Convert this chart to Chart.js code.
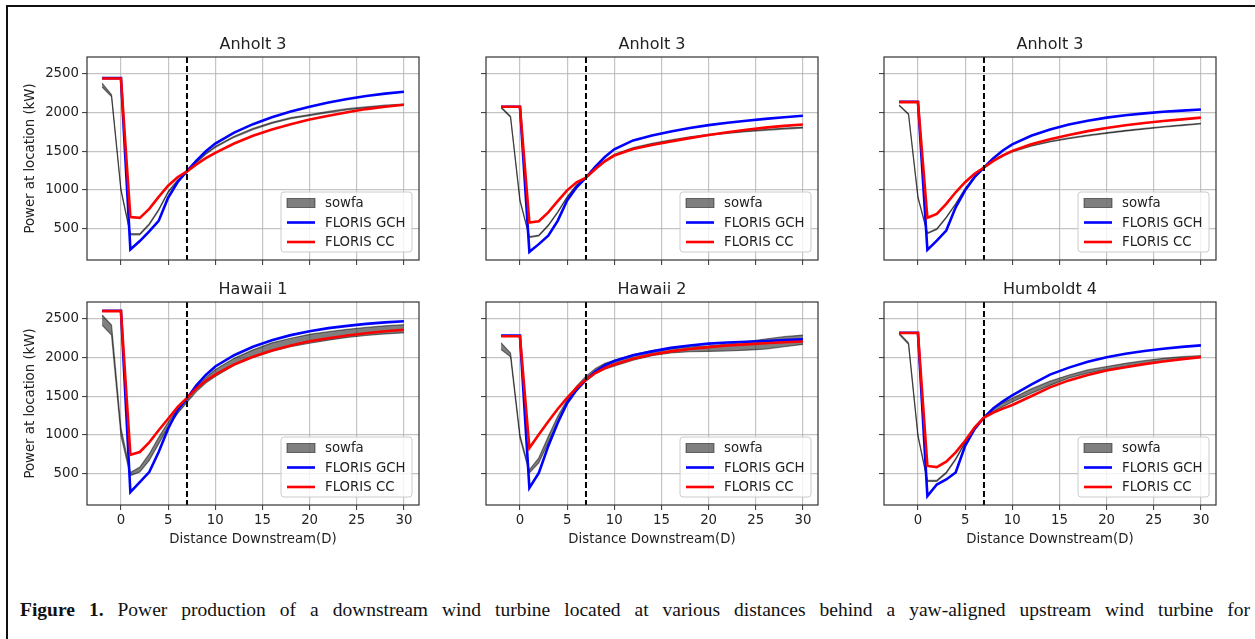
<!DOCTYPE html>
<html>
<head>
<meta charset="utf-8">
<script src="https://cdn.jsdelivr.net/npm/chart.js@4.4.1/dist/chart.umd.min.js"></script>
<style>
  body { margin: 0; background: #fff; width: 1255px; height: 639px; overflow: hidden; position: relative; }
  .frame { position: absolute; left: 6px; top: 5px; width: 1300px; height: 700px; border-left: 2px solid #111; border-top: 2px solid #111; }
  canvas { position: absolute; }
  .caption { position: absolute; left: 20px; top: 600px; font-family: 'Liberation Serif', 'Times New Roman', serif;
             font-size: 19.5px; line-height: 20px; color: #111; white-space: nowrap; transform-origin: 0 0; }
</style>
</head>
<body>
<div class="frame"></div>
<div class="caption" id="caption"><b>Figure 1.</b> Power production of a downstream wind turbine located at various distances behind a yaw-aligned upstream wind turbine for</div>
<script>
// distancias aguas abajo (D)
const dist = [-2, -1, 0, 1, 2, 3, 4, 5, 6, 7, 8, 9, 10, 12, 14, 16, 18, 20, 22, 24, 26, 28, 30];
const xTicks = [0, 5, 10, 15, 20, 25, 30];
const yTicks = [500, 1000, 1500, 2000, 2500];
const wakeLineX = 7;
const panelTitles = ['Anholt 3', 'Anholt 3', 'Anholt 3', 'Hawaii 1', 'Hawaii 2', 'Humboldt 4'];
const legendLabels = ['sowfa', 'FLORIS GCH', 'FLORIS CC'];

// Anholt 3 (1)
const gchA = [2445, 2445, 2445, 230, 340, 465, 600, 900, 1100, 1245, 1380, 1500, 1600, 1740, 1850, 1940, 2015, 2075, 2130, 2175, 2215, 2245, 2270];
const ccA = [2440, 2440, 2440, 650, 640, 755, 910, 1055, 1165, 1240, 1330, 1410, 1480, 1600, 1700, 1780, 1850, 1910, 1960, 2005, 2045, 2075, 2100];
const sowfaLoA = [2330, 2205, 990, 420, 420, 550, 735, 965, 1115, 1225, 1350, 1460, 1550, 1680, 1780, 1860, 1920, 1960, 2000, 2035, 2060, 2080, 2100];
const sowfaHiA = [2380, 2230, 1010, 435, 435, 565, 750, 980, 1130, 1240, 1365, 1475, 1565, 1695, 1795, 1875, 1935, 1975, 2015, 2050, 2075, 2095, 2110];

// Anholt 3 (2)
const gchB = [2075, 2075, 2075, 200, 300, 410, 600, 865, 1035, 1160, 1300, 1425, 1525, 1640, 1705, 1755, 1800, 1838, 1868, 1895, 1918, 1940, 1958];
const ccB = [2075, 2075, 2075, 580, 595, 710, 855, 995, 1100, 1160, 1270, 1370, 1445, 1530, 1580, 1625, 1670, 1710, 1745, 1778, 1805, 1828, 1846];
const sowfaLoB = [2060, 1940, 860, 385, 405, 535, 705, 900, 1055, 1155, 1265, 1370, 1450, 1535, 1590, 1635, 1675, 1705, 1730, 1752, 1770, 1787, 1800];
const sowfaHiB = [2072, 1952, 872, 397, 417, 547, 717, 912, 1067, 1167, 1277, 1382, 1462, 1547, 1602, 1647, 1687, 1717, 1742, 1764, 1782, 1799, 1812];

// Anholt 3 (3)
const gchC = [2140, 2140, 2140, 225, 345, 475, 775, 995, 1165, 1290, 1410, 1510, 1590, 1700, 1780, 1845, 1895, 1935, 1965, 1990, 2010, 2025, 2040];
const ccC = [2135, 2135, 2135, 640, 690, 820, 970, 1100, 1210, 1290, 1375, 1445, 1505, 1590, 1655, 1710, 1760, 1800, 1835, 1865, 1890, 1912, 1935];
const sowfaLoC = [2090, 1975, 900, 435, 490, 640, 815, 1010, 1165, 1285, 1375, 1440, 1490, 1565, 1620, 1662, 1700, 1730, 1760, 1785, 1810, 1832, 1852];
const sowfaHiC = [2100, 1985, 910, 445, 500, 650, 825, 1020, 1175, 1295, 1385, 1450, 1500, 1575, 1630, 1672, 1710, 1740, 1770, 1795, 1820, 1842, 1862];

// Hawaii 1
const gchD = [2605, 2605, 2605, 260, 390, 520, 780, 1080, 1320, 1470, 1640, 1775, 1885, 2030, 2140, 2225, 2290, 2340, 2380, 2410, 2435, 2455, 2470];
const ccD = [2600, 2600, 2600, 745, 780, 905, 1060, 1210, 1360, 1480, 1600, 1700, 1780, 1910, 2010, 2090, 2155, 2210, 2250, 2285, 2315, 2340, 2360];
const sowfaLoD = [2420, 2290, 990, 475, 520, 670, 885, 1100, 1275, 1420, 1560, 1670, 1755, 1900, 2000, 2080, 2140, 2185, 2225, 2260, 2285, 2305, 2320];
const sowfaHiD = [2550, 2420, 1090, 515, 585, 755, 970, 1165, 1340, 1475, 1620, 1740, 1845, 1990, 2100, 2190, 2250, 2300, 2335, 2365, 2390, 2410, 2425];

// Hawaii 2
const gchE = [2285, 2285, 2285, 315, 510, 855, 1155, 1415, 1585, 1715, 1820, 1900, 1955, 2030, 2080, 2125, 2155, 2180, 2195, 2205, 2215, 2225, 2235];
const ccE = [2275, 2275, 2275, 830, 1005, 1175, 1335, 1480, 1610, 1715, 1800, 1865, 1910, 1985, 2040, 2080, 2110, 2135, 2155, 2170, 2185, 2197, 2207];
const sowfaLoE = [2105, 2010, 960, 510, 640, 900, 1155, 1390, 1565, 1695, 1790, 1850, 1890, 1965, 2025, 2060, 2075, 2080, 2085, 2095, 2110, 2140, 2170];
const sowfaHiE = [2190, 2060, 1000, 550, 705, 980, 1240, 1455, 1630, 1760, 1860, 1925, 1965, 2040, 2090, 2120, 2140, 2150, 2175, 2205, 2240, 2270, 2290];

// Humboldt 4
const gchF = [2320, 2320, 2320, 210, 360, 425, 515, 860, 1075, 1225, 1345, 1435, 1510, 1650, 1780, 1870, 1945, 2005, 2050, 2085, 2115, 2138, 2158];
const ccF = [2318, 2318, 2318, 600, 585, 655, 775, 925, 1095, 1225, 1290, 1340, 1387, 1500, 1615, 1705, 1775, 1833, 1875, 1915, 1950, 1980, 2006];
const sowfaLoF = [2300, 2170, 980, 400, 400, 505, 680, 895, 1090, 1220, 1300, 1365, 1425, 1535, 1640, 1735, 1800, 1845, 1885, 1920, 1952, 1980, 2005];
const sowfaHiF = [2320, 2190, 1000, 415, 415, 520, 695, 910, 1105, 1235, 1340, 1415, 1475, 1595, 1695, 1775, 1840, 1885, 1925, 1960, 1990, 2012, 2025];

const panels = [
  [gchA, ccA, sowfaLoA, sowfaHiA],
  [gchB, ccB, sowfaLoB, sowfaHiB],
  [gchC, ccC, sowfaLoC, sowfaHiC],
  [gchD, ccD, sowfaLoD, sowfaHiD],
  [gchE, ccE, sowfaLoE, sowfaHiE],
  [gchF, ccF, sowfaLoF, sowfaHiF]
];

const xMin = -3.6, xMax = 31.6;
const yMin = 95, yMax = 2718;
const colLeft = [87, 486, 884];
const rowTop = [57, 302];
const sowfaFill = 'rgba(0,0,0,0.5)';
const sowfaEdge = 'rgba(0,0,0,0.5)';
const lineColors = ['#0000ff', '#ff0000'];
const txt = '#222';
const tickFont = { family: 'DejaVu Sans', size: 13.3 };

// ajustar el pie de figura al ancho de la caja (justificado)
const caption = document.getElementById('caption');
const capTarget = 1230;
const capW = caption.getBoundingClientRect().width;
const spaces = caption.textContent.split(' ').length - 1;
if (capW < capTarget) {
  caption.style.wordSpacing = ((capTarget - capW) / spaces) + 'px';
} else {
  caption.style.transform = 'scaleX(' + (capTarget / capW) + ')';
}

// linea punteada, marco, titulo y leyenda
const panelDecor = {
  id: 'panelDecor',
  afterDatasetsDraw(chart, args, opts) {
    const { ctx, chartArea: a, scales } = chart;
    const px = scales.x.getPixelForValue(wakeLineX);
    ctx.save();
    ctx.strokeStyle = '#000';
    ctx.lineWidth = 2;
    ctx.setLineDash([6, 3]);
    ctx.beginPath();
    ctx.moveTo(px, a.top);
    ctx.lineTo(px, a.bottom);
    ctx.stroke();
    ctx.setLineDash([]);

    ctx.strokeStyle = '#333';
    ctx.lineWidth = 1.2;
    ctx.strokeRect(a.left, a.top, a.right - a.left, a.bottom - a.top);

    ctx.fillStyle = txt;
    ctx.font = '16px "DejaVu Sans"';
    ctx.textAlign = 'center';
    ctx.textBaseline = 'alphabetic';
    ctx.fillText(opts.title, (a.left + a.right) / 2, a.top - 8);

    // leyenda
    const bw = 131, bh = 60;
    const bx = a.right - 7 - bw, by = a.bottom - 8 - bh;
    ctx.beginPath();
    ctx.roundRect(bx, by, bw, bh, 3);
    ctx.fillStyle = 'rgba(255,255,255,0.8)';
    ctx.fill();
    ctx.strokeStyle = '#cccccc';
    ctx.lineWidth = 1;
    ctx.stroke();
    ctx.font = '13.3px "DejaVu Sans"';
    ctx.textAlign = 'left';
    ctx.textBaseline = 'middle';
    legendLabels.forEach((lab, i) => {
      const ry = by + 11 + i * 19.5;
      if (i === 0) {
        ctx.fillStyle = sowfaFill;
        ctx.fillRect(bx + 6, ry - 4.5, 28, 9);
        ctx.strokeStyle = sowfaEdge;
        ctx.strokeRect(bx + 6, ry - 4.5, 28, 9);
      } else {
        ctx.strokeStyle = lineColors[i - 1];
        ctx.lineWidth = 2.6;
        ctx.beginPath();
        ctx.moveTo(bx + 6, ry);
        ctx.lineTo(bx + 34, ry);
        ctx.stroke();
      }
      ctx.fillStyle = txt;
      ctx.fillText(lab, bx + 44, ry + 1);
    });
    ctx.restore();
  }
};

function makePanel(idx) {
  const col = idx % 3, row = Math.floor(idx / 3);
  const [gch, cc, lo, hi] = panels[idx];
  const canvas = document.createElement('canvas');
  canvas.width = 422;
  canvas.height = 283;
  canvas.style.left = (colLeft[col] - 80) + 'px';
  canvas.style.top = (rowTop[row] - 30) + 'px';
  document.body.appendChild(canvas);
  const pts = arr => dist.map((d, i) => ({ x: d, y: arr[i] }));

  new Chart(canvas, {
    type: 'line',
    data: {
      datasets: [
        { label: 'sowfa', data: pts(lo), borderColor: sowfaEdge, borderWidth: 1.2, pointRadius: 0, fill: false, order: 2 },
        { label: 'sowfa max', data: pts(hi), borderColor: sowfaEdge, borderWidth: 1.2, pointRadius: 0, fill: '-1', backgroundColor: sowfaFill, order: 2 },
        { label: 'FLORIS GCH', data: pts(gch), borderColor: lineColors[0], borderWidth: 2.6, pointRadius: 0, fill: false, order: 1 },
        { label: 'FLORIS CC', data: pts(cc), borderColor: lineColors[1], borderWidth: 2.6, pointRadius: 0, fill: false, order: 0 }
      ]
    },
    options: {
      responsive: false,
      animation: false,
      events: [],
      layout: { padding: { top: 30, right: 10, left: 0, bottom: 0 } },
      plugins: {
        legend: { display: false },
        tooltip: { enabled: false },
        panelDecor: { title: panelTitles[idx] }
      },
      scales: {
        x: {
          type: 'linear',
          min: xMin,
          max: xMax,
          afterBuildTicks: axis => { axis.ticks = xTicks.map(v => ({ value: v })); },
          afterFit: axis => { axis.height = 50; },
          grid: { color: 'rgba(176,176,176,0.75)', lineWidth: 1.2, tickLength: 5, tickColor: '#333', tickWidth: 1 },
          border: { display: false },
          ticks: { font: tickFont, color: txt, padding: 3, maxRotation: 0, autoSkip: false,
                   callback: v => row === 1 ? String(v) : '' },
          title: { display: row === 1, text: 'Distance Downstream(D)', font: tickFont, color: txt,
                   padding: { top: 0, bottom: 7 } }
        },
        y: {
          type: 'linear',
          min: yMin,
          max: yMax,
          afterBuildTicks: axis => { axis.ticks = yTicks.map(v => ({ value: v })); },
          afterFit: axis => { axis.width = 80; },
          grid: { color: 'rgba(176,176,176,0.75)', lineWidth: 1.2, tickLength: 5, tickColor: '#333', tickWidth: 1 },
          border: { display: false },
          ticks: { font: tickFont, color: txt, padding: 3, autoSkip: false,
                   callback: v => col === 0 ? String(v) : '' },
          title: { display: col === 0, text: 'Power at location (kW)', font: tickFont, color: txt,
                   padding: { top: 16, bottom: 0 } }
        }
      }
    },
    plugins: [panelDecor]
  });
}

for (let i = 0; i < panels.length; i++) makePanel(i);
</script>
</body>
</html>
